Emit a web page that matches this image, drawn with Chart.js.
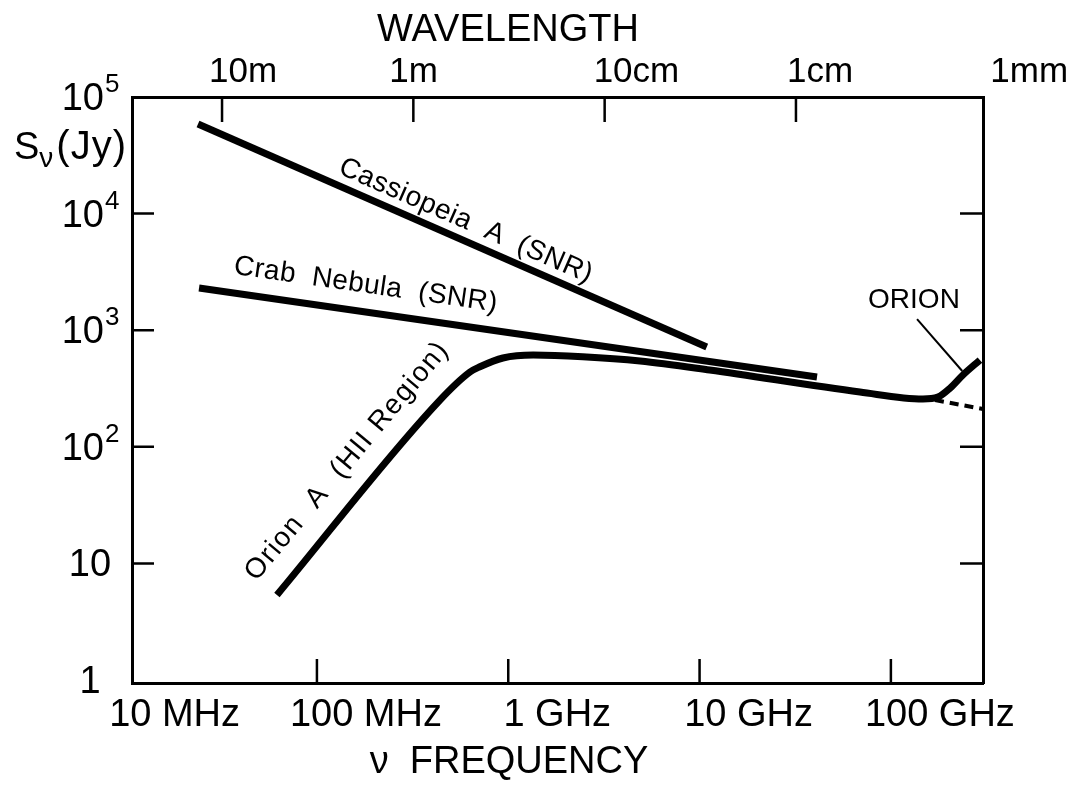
<!DOCTYPE html>
<html>
<head>
<meta charset="utf-8">
<script src="https://cdn.jsdelivr.net/npm/chart.js@4.4.1/dist/chart.umd.min.js"></script>
<style>
html, body { margin: 0; padding: 0; background: #fff; }
#wrap { width: 1070px; height: 785px; }
</style>
</head>
<body>
<div id="wrap"><canvas id="spectrumChart"></canvas></div>
<script>
// frequency in Hz, flux density in Jy
const casFreq = [2.39e7, 1.09e10];
const casFlux = [5.87e4, 718];
const crabFreq = [2.42e7, 4.11e10];
const crabFlux = [2300, 397];
const orionFreq = [6.18e7, 4.3e8, 6.31e8, 7.11e8, 9.38e8, 1.35e9, 2.45e9, 4.89e9, 1.13e10, 6.89e10, 1.47e11, 1.76e11, 2.04e11, 2.38e11, 2.92e11];
const orionFlux = [5.36, 242, 438, 486, 578, 613, 593, 545, 456, 295, 257, 267, 319, 413, 555];
const extrapFreq = [1.7e11, 3.03e11];
const extrapFlux = [252, 211];

const freqTicks = [1e7, 1e8, 1e9, 1e10, 1e11];
const freqLabels = ['10 MHz', '100 MHz', '1 GHz', '10 GHz', '100 GHz'];
const waveTicks = [3e7, 3e8, 3e9, 3e10, 3e11];
const waveLabels = ['10m', '1m', '10cm', '1cm', '1mm'];
const fluxTicks = [1, 10, 100, 1e3, 1e4, 1e5];

const notes = [
    { text: 'Cassiopeia  A  (SNR)', x: 6.0e8, y: 8640, along: 'cas', size: 28, spacing: 0.4 },
    { text: 'Crab  Nebula  (SNR)', x: 1.80e8, y: 2443, along: 'crab', size: 28, spacing: 0.4 },
    { text: 'Orion  A  (HII Region)', x: 1.44e8, y: 75.5, along: 'orion', size: 28, spacing: 1.5 },
    { text: 'ORION', x: 1.32e11, y: 1815, along: null, size: 28, spacing: 0 }
];
const leaderFreq = [1.37e11, 2.36e11];
const leaderFlux = [1247, 447];

const FONT = '"Liberation Sans", Arial, Helvetica, sans-serif';
const AX = 38;

function pts(xs, ys) {
    return xs.map((x, i) => ({ x: x, y: ys[i] }));
}

const decor = {
    id: 'decor',
    afterDraw(chart) {
        const ctx = chart.ctx;
        const a = chart.chartArea;
        const sx = chart.scales.x, sx2 = chart.scales.x2, sy = chart.scales.y;
        ctx.save();
        ctx.strokeStyle = '#000';
        ctx.fillStyle = '#000';
        ctx.lineWidth = 2.5;

        // inward tick marks
        ctx.beginPath();
        freqTicks.forEach(v => {
            const px = sx.getPixelForValue(v);
            if (px > a.left + 6 && px < a.right - 6) {
                ctx.moveTo(px, a.bottom); ctx.lineTo(px, a.bottom - 24);
            }
        });
        waveTicks.forEach(v => {
            const px = sx2.getPixelForValue(v);
            if (px > a.left + 6 && px < a.right - 6) {
                ctx.moveTo(px, a.top); ctx.lineTo(px, a.top + 25);
            }
        });
        fluxTicks.forEach(v => {
            const py = sy.getPixelForValue(v);
            if (py > a.top + 6 && py < a.bottom - 6) {
                ctx.moveTo(a.left, py); ctx.lineTo(a.left + 22, py);
                ctx.moveTo(a.right, py); ctx.lineTo(a.right - 23, py);
            }
        });
        ctx.stroke();

        // bottom frequency labels
        ctx.font = AX + 'px ' + FONT;
        ctx.textBaseline = 'alphabetic';
        ctx.textAlign = 'center';
        freqTicks.forEach((v, i) => {
            ctx.fillText(freqLabels[i], sx.getPixelForValue(v) + 49, a.bottom + 43);
        });
        // top wavelength labels (hand-lettered, so each sits a little differently)
        const topShift = [-13, -24, -11, -9, 3];
        ctx.font = '35px ' + FONT;
        ctx.textAlign = 'left';
        waveTicks.forEach((v, i) => {
            ctx.fillText(waveLabels[i], sx2.getPixelForValue(v) + topShift[i], a.top - 15);
        });
        // axis titles
        ctx.font = AX + 'px ' + FONT;
        ctx.textAlign = 'center';
        ctx.fillText('WAVELENGTH', 508, 41);
        ctx.fillText('\u03bd  FREQUENCY', 509, 773);

        // y labels with superscripts
        fluxTicks.forEach(v => {
            const py = sy.getPixelForValue(v);
            const exp = Math.round(Math.log10(v));
            ctx.textBaseline = 'alphabetic';
            if (exp < 2) {
                ctx.font = AX + 'px ' + FONT;
                ctx.textAlign = 'center';
                ctx.fillText(exp === 0 ? '1' : '10', 90, py + 13);
            } else {
                ctx.font = AX + 'px ' + FONT;
                const w1 = ctx.measureText('10').width;
                ctx.font = '26px ' + FONT;
                const w2 = ctx.measureText(String(exp)).width;
                const x0 = 90 - (w1 + w2) / 2;
                ctx.textAlign = 'left';
                ctx.font = AX + 'px ' + FONT;
                ctx.fillText('10', x0, py + 13);
                ctx.font = '26px ' + FONT;
                ctx.fillText(String(exp), x0 + w1 + 1, py - 5);
            }
        });

        // S_nu (Jy)
        ctx.textAlign = 'left';
        ctx.font = AX + 'px ' + FONT;
        ctx.fillText('S', 14, 159);
        const wS = ctx.measureText('S').width;
        ctx.font = '28px ' + FONT;
        ctx.fillText('\u03bd', 14 + wS, 167);
        const wN = ctx.measureText('\u03bd').width;
        ctx.font = '40px ' + FONT;
        ctx.letterSpacing = '1px';
        ctx.fillText('(Jy)', 14 + wS + wN + 3, 159);
        ctx.letterSpacing = '0px';

        // curve annotations, rotated along the curves
        const lines = {
            cas: [casFreq, casFlux],
            crab: [crabFreq, crabFlux],
            orion: [orionFreq, orionFlux]
        };
        notes.forEach(n => {
            let ang = 0;
            if (n.along) {
                const [fx, fy] = lines[n.along];
                const dx = sx.getPixelForValue(fx[1]) - sx.getPixelForValue(fx[0]);
                const dy = sy.getPixelForValue(fy[1]) - sy.getPixelForValue(fy[0]);
                ang = Math.atan2(dy, dx);
            }
            ctx.save();
            ctx.translate(sx.getPixelForValue(n.x), sy.getPixelForValue(n.y));
            ctx.rotate(ang);
            ctx.font = n.size + 'px ' + FONT;
            ctx.letterSpacing = n.spacing + 'px';
            ctx.textAlign = 'center';
            ctx.textBaseline = 'middle';
            ctx.fillText(n.text, 0, 0);
            ctx.restore();
        });

        // leader from ORION label to the rising part
        ctx.lineWidth = 2;
        ctx.beginPath();
        ctx.moveTo(sx.getPixelForValue(leaderFreq[0]), sy.getPixelForValue(leaderFlux[0]));
        ctx.lineTo(sx.getPixelForValue(leaderFreq[1]), sy.getPixelForValue(leaderFlux[1]));
        ctx.stroke();
        ctx.restore();
    }
};

const hidden = { display: false };
const edge = { display: true, width: 3, color: '#000' };

new Chart(document.getElementById('spectrumChart').getContext('2d'), {
    type: 'line',
    data: {
        datasets: [{
            label: 'Cassiopeia A',
            data: pts(casFreq, casFlux),
            borderColor: '#000',
            borderWidth: 7,
            pointRadius: 0
        }, {
            label: 'Crab Nebula',
            data: pts(crabFreq, crabFlux),
            borderColor: '#000',
            borderWidth: 7,
            pointRadius: 0
        }, {
            label: 'Orion A',
            data: pts(orionFreq, orionFlux),
            borderColor: '#000',
            borderWidth: 7,
            pointRadius: 0,
            cubicInterpolationMode: 'monotone'
        }, {
            label: 'extrapolation',
            data: pts(extrapFreq, extrapFlux),
            borderColor: '#000',
            borderWidth: 4,
            borderDash: [9, 6],
            pointRadius: 0
        }]
    },
    options: {
        responsive: true,
        maintainAspectRatio: false,
        animation: false,
        layout: { padding: { left: 124, right: 79, top: 89, bottom: 94 } },
        plugins: { legend: { display: false }, tooltip: { enabled: false } },
        scales: {
            x: {
                type: 'logarithmic', position: 'bottom',
                min: 1.08e7, max: 3.03e11,
                grid: hidden, ticks: hidden, border: edge
            },
            x2: {
                type: 'logarithmic', position: 'top',
                min: 1.015e7, max: 2.85e11,
                grid: hidden, ticks: hidden, border: edge
            },
            y: {
                type: 'logarithmic', position: 'left',
                min: 0.943, max: 1e5,
                grid: hidden, ticks: hidden, border: edge
            },
            y2: {
                type: 'logarithmic', position: 'right',
                min: 0.943, max: 1e5,
                grid: hidden, ticks: hidden, border: edge
            }
        }
    },
    plugins: [decor]
});
</script>
</body>
</html>
